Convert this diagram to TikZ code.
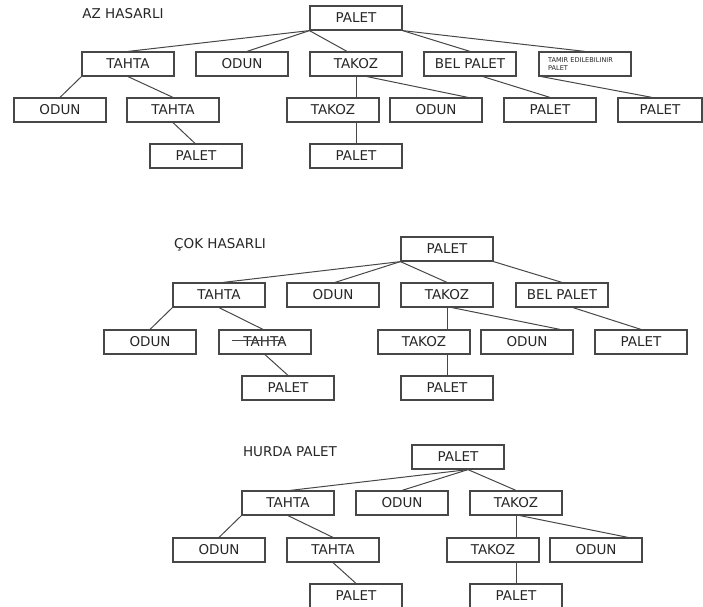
\documentclass[tikz,border=0pt]{standalone}
\usepackage{fontspec}
\setmainfont{DejaVu Sans}
\usetikzlibrary{positioning, calc}

\begin{document}
\begin{tikzpicture}[
    x=1pt, y=-1pt,
    box/.style={draw=black!72, line width=1.2pt, minimum width=92pt, minimum height=24pt, inner sep=0pt, text=black!85, font=\fontsize{13.5}{14}\selectfont},
    tiny box/.style={box, font=\fontsize{6.6}{8}\selectfont},
    title/.style={text=black!85, font=\fontsize{13.5}{14}\selectfont},
    link/.style={draw=black!72, line width=1pt}
]
    \useasboundingbox (0,0) rectangle (703,606);

    % AZ HASARLI
    \node[title] (ta) at (123,14) {AZ HASARLI};
    \node[box] (a0) at (356,18) {PALET};
    \node[box] (a1) at (128,64) {TAHTA};
    \node[box] (a2) at (242,64) {ODUN};
    \node[box] (a3) at (356,64) {TAKOZ};
    \node[box] (a4) at (470,64) {BEL PALET};
    \node[tiny box] (a5) at (585,64) {\raisebox{2.5pt}{\parbox{74pt}{\raggedright TAMIR EDILEBILINIR\\PALET}}};
    \node[box] (a11) at (60,110) {ODUN};
    \node[box] (a12) at (173,110) {TAHTA};
    \node[box] (a31) at (333,110) {TAKOZ};
    \node[box] (a32) at (436,110) {ODUN};
    \node[box] (a41) at (550,110) {PALET};
    \node[box, minimum width=84pt] (a51) at (660,110) {PALET};
    \node[box] (a121) at (196,156) {PALET};
    \node[box] (a311) at (356,156) {PALET};
    \draw[link] (a0.south west) -- (a1.north);
    \draw[link] (a0.south west) -- ([xshift=5pt]a2.north);
    \draw[link] (a0.south west) -- ([xshift=-9pt]a3.north);
    \draw[link] (a0.south east) -- (a4.north);
    \draw[link] (a0.south east) -- (a5.north);
    \draw[link] (a1.south west) -- (a11.north);
    \draw[link] (a1.south) -- (a12.north);
    \draw[link] (a12.south) -- ([xshift=-1pt]a121.north);
    \draw[link] (a3.south) -- (a3.south |- a31.north);
    \draw[link] (a311.north |- a31.south) -- (a311.north);
    \draw[link] ([xshift=11pt]a3.south) -- ([xshift=32pt]a32.north);
    \draw[link] ([xshift=13pt]a4.south) -- (a41.north);
    \draw[link] ([xshift=3pt]a5.south west) -- ([xshift=-8pt]a51.north);

    % COK HASARLI
    \node[title] (tb) at (220,245) {ÇOK HASARLI};
    \node[box] (b0) at (447,249) {PALET};
    \node[box] (b1) at (219,295) {TAHTA};
    \node[box] (b2) at (333,295) {ODUN};
    \node[box] (b3) at (447,295) {TAKOZ};
    \node[box] (b4) at (562,295) {BEL PALET};
    \node[box] (b11) at (150,342) {ODUN};
    \node[box] (b12) at (265,342) {TAHTA};
    \node[box] (b31) at (424,342) {TAKOZ};
    \node[box] (b32) at (527,342) {ODUN};
    \node[box] (b41) at (641,342) {PALET};
    \node[box] (b121) at (288,388) {PALET};
    \node[box] (b311) at (447,388) {PALET};
    \draw[link] ([xshift=-33pt,yshift=2pt]b12.center) -- ([xshift=18pt,yshift=2pt]b12.center);
    \draw[link] (b0.south west) -- ([xshift=4pt]b1.north);
    \draw[link] (b0.south west) -- ([xshift=2pt]b2.north);
    \draw[link] (b0.south west) -- (b3.north);
    \draw[link] (b0.south east) -- (b4.north);
    \draw[link] (b1.south west) -- (b11.north);
    \draw[link] (b1.south) -- ([xshift=-2pt]b12.north);
    \draw[link] (b12.south) -- (b121.north);
    \draw[link] (b3.south) -- (b3.south |- b31.north);
    \draw[link] (b311.north |- b31.south) -- (b311.north);
    \draw[link] ([xshift=5pt]b3.south) -- ([xshift=33pt]b32.north);
    \draw[link] ([xshift=11pt]b4.south) -- (b41.north);

    % HURDA PALET
    \node[title] (tc) at (290,452) {HURDA PALET};
    \node[box] (c0) at (458,457) {PALET};
    \node[box] (c1) at (288,503) {TAHTA};
    \node[box] (c2) at (402,503) {ODUN};
    \node[box] (c3) at (516,503) {TAKOZ};
    \node[box] (c11) at (219,550) {ODUN};
    \node[box] (c12) at (333,550) {TAHTA};
    \node[box] (c31) at (493,550) {TAKOZ};
    \node[box] (c32) at (596,550) {ODUN};
    \node[box] (c121) at (356,596) {PALET};
    \node[box] (c311) at (516,596) {PALET};
    \draw[link] ([xshift=10pt]c0.south) -- ([xshift=2pt]c1.north);
    \draw[link] ([xshift=10pt]c0.south) -- (c2.north);
    \draw[link] ([xshift=10pt]c0.south) -- (c3.north);
    \draw[link] (c1.south west) -- (c11.north);
    \draw[link] (c1.south) -- (c12.north);
    \draw[link] (c12.south) -- (c121.north);
    \draw[link] (c3.south) -- (c3.south |- c31.north);
    \draw[link] (c311.north |- c31.south) -- (c311.north);
    \draw[link] ([xshift=4pt]c3.south) -- ([xshift=32pt]c32.north);
\end{tikzpicture}
\end{document}
